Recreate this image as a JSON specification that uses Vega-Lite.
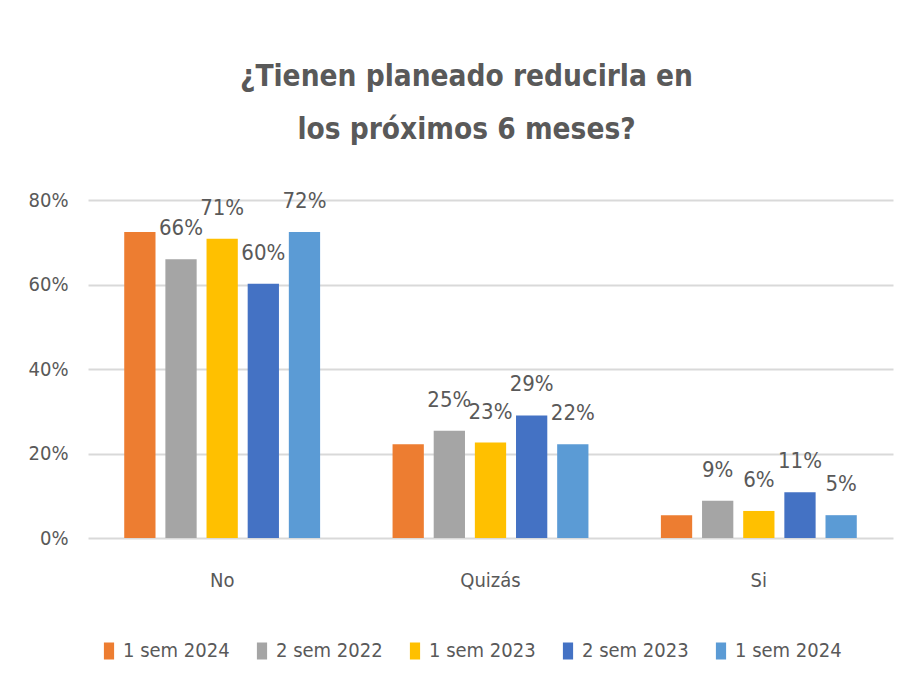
{
  "$schema": "https://vega.github.io/schema/vega-lite/v6.json",
  "autosize": {"type": "none"},
  "padding": {"left": 88, "top": 200, "right": 14, "bottom": 160},
  "width": 805,
  "height": 338,
  "background": "white",
  "config": {
    "font": "DejaVu Sans Condensed, sans-serif",
    "view": {"stroke": null}
  },
  "title": {
    "text": ["¿Tienen planeado reducirla en", "los próximos 6 meses?"],
    "fontSize": 29.5,
    "fontWeight": "bold",
    "color": "#595959",
    "lineHeight": 53,
    "anchor": "middle",
    "dx": -24,
    "offset": 45
  },
  "data": {
    "values": [
      {"respuesta": "No", "serie": "s1", "valor": 0.724},
      {"respuesta": "No", "serie": "s2", "valor": 0.66},
      {"respuesta": "No", "serie": "s3", "valor": 0.708},
      {"respuesta": "No", "serie": "s4", "valor": 0.602},
      {"respuesta": "No", "serie": "s5", "valor": 0.724},
      {"respuesta": "Quizás", "serie": "s1", "valor": 0.222},
      {"respuesta": "Quizás", "serie": "s2", "valor": 0.254},
      {"respuesta": "Quizás", "serie": "s3", "valor": 0.226},
      {"respuesta": "Quizás", "serie": "s4", "valor": 0.29},
      {"respuesta": "Quizás", "serie": "s5", "valor": 0.222},
      {"respuesta": "Si", "serie": "s1", "valor": 0.054},
      {"respuesta": "Si", "serie": "s2", "valor": 0.088},
      {"respuesta": "Si", "serie": "s3", "valor": 0.064},
      {"respuesta": "Si", "serie": "s4", "valor": 0.108},
      {"respuesta": "Si", "serie": "s5", "valor": 0.054}
    ]
  },
  "encoding": {
    "x": {
      "field": "respuesta",
      "type": "nominal",
      "sort": ["No", "Quizás", "Si"],
      "scale": {"paddingInner": 0.27, "paddingOuter": 0.135},
      "axis": {
        "title": null,
        "labelAngle": 0,
        "labelFontSize": 20,
        "labelColor": "#595959",
        "labelPadding": 32,
        "domain": false,
        "ticks": false
      }
    },
    "xOffset": {
      "field": "serie",
      "type": "nominal",
      "sort": ["s1", "s2", "s3", "s4", "s5"],
      "scale": {"paddingInner": 0.24, "paddingOuter": 0}
    },
    "y": {
      "field": "valor",
      "type": "quantitative",
      "scale": {"domain": [0, 0.8], "nice": false},
      "axis": {
        "title": null,
        "format": ".0%",
        "values": [0, 0.2, 0.4, 0.6, 0.8],
        "labelFontSize": 20,
        "labelColor": "#595959",
        "labelPadding": 20,
        "domain": false,
        "ticks": false,
        "gridColor": "#d9d9d9",
        "gridWidth": 2
      }
    }
  },
  "layer": [
    {
      "mark": {"type": "bar"},
      "encoding": {
        "color": {
          "field": "serie",
          "type": "nominal",
          "sort": ["s1", "s2", "s3", "s4", "s5"],
          "scale": {
            "domain": ["s1", "s2", "s3", "s4", "s5"],
            "range": ["#ed7d31", "#a5a5a5", "#ffc000", "#4472c4", "#5b9bd5"]
          },
          "legend": {
            "title": null,
            "orient": "none",
            "legendX": 11,
            "legendY": 441,
            "direction": "horizontal",
            "labelFontSize": 20,
            "labelColor": "#595959",
            "symbolType": "M-0.6,-1H0.6V1H-0.6Z",
            "symbolSize": 289,
            "symbolStrokeWidth": 0,
            "symbolOpacity": 1,
            "labelOffset": 4,
            "columnPadding": 22,
            "labelExpr": "datum.label == 's1' ? '1 sem 2024' : datum.label == 's2' ? '2 sem 2022' : datum.label == 's3' ? '1 sem 2023' : datum.label == 's4' ? '2 sem 2023' : '1 sem 2024'"
          }
        }
      }
    },
    {
      "transform": [{"filter": "datum.serie != 's1'"}],
      "mark": {
        "type": "text",
        "fontSize": 22,
        "color": "#595959",
        "baseline": "alphabetic",
        "dy": -24
      },
      "encoding": {
        "text": {"field": "valor", "type": "quantitative", "format": ".0%"}
      }
    }
  ]
}
